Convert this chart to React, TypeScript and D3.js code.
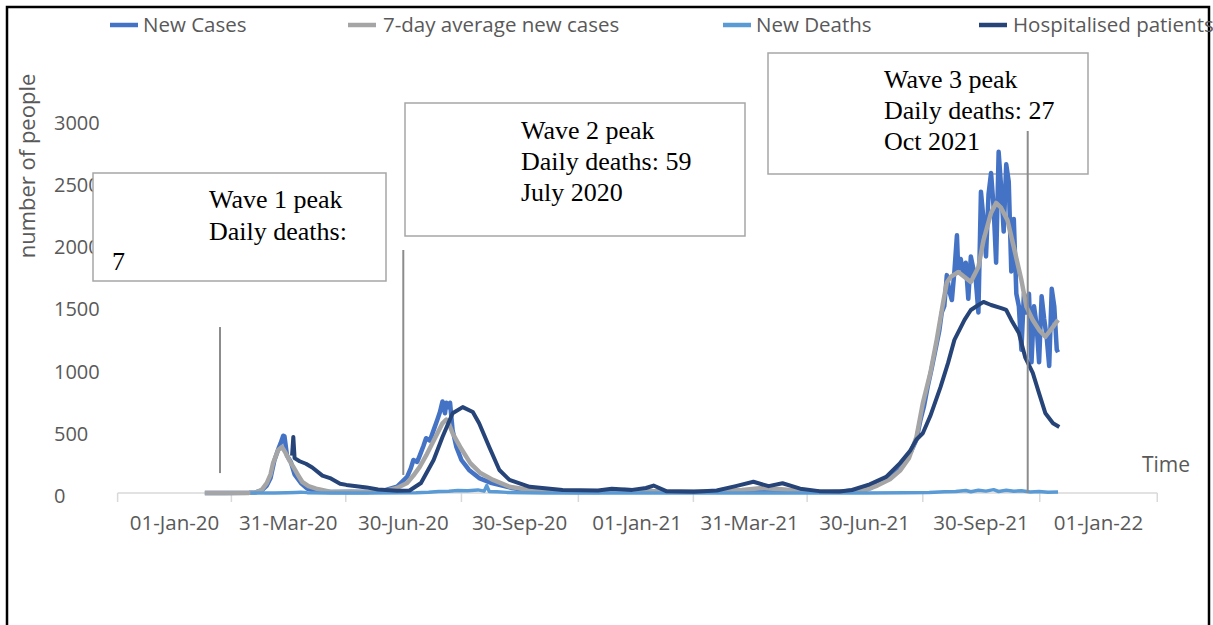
import React from "react";
import * as d3 from "d3";

type P = [string, number];

const xLabels: string[] = [
  "2020-01-01", "2020-03-31", "2020-06-30", "2020-09-30", "2021-01-01",
  "2021-03-31", "2021-06-30", "2021-09-30", "2022-01-01",
];
const xLabelText: string[] = [
  "01-Jan-20", "31-Mar-20", "30-Jun-20", "30-Sep-20", "01-Jan-21",
  "31-Mar-21", "30-Jun-21", "30-Sep-21", "01-Jan-22",
];
const yTicks: number[] = [0, 500, 1000, 1500, 2000, 2500, 3000];

const newCases: P[] = [
  ["2020-01-25", 0], ["2020-02-10", 1], ["2020-02-29", 2], ["2020-03-05", 5], ["2020-03-10", 20],
  ["2020-03-14", 60], ["2020-03-17", 120], ["2020-03-20", 260], ["2020-03-23", 350], ["2020-03-25", 400],
  ["2020-03-27", 460], ["2020-03-28", 455], ["2020-03-30", 300], ["2020-04-02", 250], ["2020-04-05", 150],
  ["2020-04-10", 80], ["2020-04-15", 35], ["2020-04-22", 15], ["2020-05-03", 8], ["2020-05-20", 10],
  ["2020-06-01", 8], ["2020-06-15", 20], ["2020-06-25", 50], ["2020-07-03", 130], ["2020-07-06", 200],
  ["2020-07-08", 265], ["2020-07-11", 250], ["2020-07-13", 300], ["2020-07-16", 380], ["2020-07-18", 440],
  ["2020-07-21", 420], ["2020-07-24", 505], ["2020-07-27", 590], ["2020-07-29", 650], ["2020-07-31", 735],
  ["2020-08-02", 640], ["2020-08-03", 725], ["2020-08-05", 690], ["2020-08-06", 725], ["2020-08-08", 505],
  ["2020-08-11", 370], ["2020-08-15", 265], ["2020-08-21", 185], ["2020-08-29", 120], ["2020-09-08", 80],
  ["2020-09-24", 40], ["2020-10-10", 15], ["2020-11-01", 10], ["2020-12-01", 8], ["2020-12-22", 25],
  ["2021-01-05", 20], ["2021-01-20", 10], ["2021-02-15", 10], ["2021-03-10", 12], ["2021-04-01", 20],
  ["2021-04-20", 18], ["2021-05-10", 12], ["2021-06-01", 10], ["2021-06-15", 15], ["2021-06-25", 25],
  ["2021-07-05", 40], ["2021-07-12", 90], ["2021-07-19", 120], ["2021-07-26", 200], ["2021-08-01", 260],
  ["2021-08-06", 340], ["2021-08-10", 430], ["2021-08-13", 580], ["2021-08-16", 700], ["2021-08-19", 860],
  ["2021-08-22", 1000], ["2021-08-25", 1150], ["2021-08-28", 1300], ["2021-08-30", 1450], ["2021-09-01", 1500],
  ["2021-09-03", 1750], ["2021-09-05", 1620], ["2021-09-07", 1550], ["2021-09-09", 1780], ["2021-09-11", 2070],
  ["2021-09-12", 1800], ["2021-09-14", 1880], ["2021-09-16", 1750], ["2021-09-18", 1850], ["2021-09-20", 1560],
  ["2021-09-22", 1900], ["2021-09-24", 1800], ["2021-09-26", 1700], ["2021-09-28", 1450], ["2021-09-30", 2420],
  ["2021-10-02", 2200], ["2021-10-04", 1900], ["2021-10-06", 2400], ["2021-10-08", 2570], ["2021-10-10", 2300],
  ["2021-10-12", 1850], ["2021-10-14", 2740], ["2021-10-16", 2450], ["2021-10-18", 2100], ["2021-10-20", 2640],
  ["2021-10-22", 2500], ["2021-10-24", 1780], ["2021-10-26", 2200], ["2021-10-28", 1600], ["2021-10-30", 1500],
  ["2021-11-01", 1150], ["2021-11-03", 1600], ["2021-11-05", 1450], ["2021-11-07", 1600], ["2021-11-09", 1050],
  ["2021-11-11", 1500], ["2021-11-13", 1350], ["2021-11-15", 1050], ["2021-11-17", 1580], ["2021-11-19", 1400],
  ["2021-11-21", 1250], ["2021-11-23", 1020], ["2021-11-25", 1640], ["2021-11-27", 1500], ["2021-11-29", 1150],
  ["2021-11-30", 1130],
];

const avg7: P[] = [
  ["2020-01-25", 0], ["2020-02-29", 1], ["2020-03-05", 4], ["2020-03-10", 25], ["2020-03-14", 80],
  ["2020-03-17", 150], ["2020-03-19", 240], ["2020-03-23", 345], ["2020-03-26", 370], ["2020-03-29", 320],
  ["2020-04-01", 260], ["2020-04-04", 210], ["2020-04-08", 140], ["2020-04-11", 90], ["2020-04-16", 55],
  ["2020-04-22", 35], ["2020-05-03", 10], ["2020-05-20", 8], ["2020-06-05", 8], ["2020-06-15", 15],
  ["2020-06-25", 40], ["2020-07-03", 80], ["2020-07-08", 140], ["2020-07-13", 210], ["2020-07-18", 300],
  ["2020-07-23", 400], ["2020-07-27", 480], ["2020-07-31", 560], ["2020-08-03", 590], ["2020-08-05", 560],
  ["2020-08-08", 480], ["2020-08-14", 370], ["2020-08-22", 240], ["2020-08-30", 160], ["2020-09-09", 105],
  ["2020-09-22", 50], ["2020-10-08", 24], ["2020-10-25", 12], ["2020-11-15", 8], ["2020-12-22", 20],
  ["2021-01-05", 18], ["2021-01-25", 10], ["2021-03-01", 10], ["2021-03-25", 25], ["2021-04-10", 40],
  ["2021-04-25", 30], ["2021-05-15", 12], ["2021-06-10", 10], ["2021-06-20", 15], ["2021-07-01", 25],
  ["2021-07-10", 60], ["2021-07-20", 110], ["2021-07-28", 180], ["2021-08-04", 280], ["2021-08-10", 450],
  ["2021-08-15", 720], ["2021-08-21", 965], ["2021-08-26", 1230], ["2021-08-31", 1525], ["2021-09-03", 1690],
  ["2021-09-06", 1735], ["2021-09-12", 1775], ["2021-09-17", 1735], ["2021-09-22", 1695], ["2021-09-28", 1815],
  ["2021-10-02", 2030], ["2021-10-08", 2250], ["2021-10-12", 2330], ["2021-10-16", 2290], ["2021-10-21", 2190],
  ["2021-10-26", 1975], ["2021-11-01", 1710], ["2021-11-05", 1495], ["2021-11-10", 1390], ["2021-11-15", 1310],
  ["2021-11-20", 1255], ["2021-11-26", 1335], ["2021-11-30", 1390],
];

const newDeaths: P[] = [
  ["2020-03-01", 0], ["2020-03-20", 1], ["2020-03-30", 3], ["2020-04-06", 5], ["2020-04-10", 7],
  ["2020-04-15", 3], ["2020-05-01", 1], ["2020-06-01", 0], ["2020-07-10", 2], ["2020-07-20", 6],
  ["2020-07-28", 12], ["2020-08-05", 15], ["2020-08-12", 20], ["2020-08-20", 18], ["2020-08-28", 25],
  ["2020-09-02", 15], ["2020-09-04", 59], ["2020-09-06", 12], ["2020-09-12", 10], ["2020-09-20", 5],
  ["2020-10-05", 2], ["2020-10-20", 0], ["2021-07-01", 0], ["2021-08-01", 2], ["2021-08-20", 5],
  ["2021-09-01", 10], ["2021-09-10", 12], ["2021-09-18", 20], ["2021-09-22", 10], ["2021-09-28", 22],
  ["2021-10-04", 15], ["2021-10-10", 27], ["2021-10-14", 12], ["2021-10-20", 22], ["2021-10-26", 14],
  ["2021-11-01", 18], ["2021-11-08", 8], ["2021-11-15", 12], ["2021-11-22", 6], ["2021-11-30", 8],
];

const hospitalised: P[] = [
  ["2020-04-03", 300], ["2020-04-04", 450], ["2020-04-05", 280], ["2020-04-09", 255], ["2020-04-14", 235],
  ["2020-04-19", 205], ["2020-04-27", 140], ["2020-05-03", 120], ["2020-05-11", 75], ["2020-05-16", 65],
  ["2020-06-01", 45], ["2020-06-10", 28], ["2020-06-25", 18], ["2020-07-05", 20], ["2020-07-14", 80],
  ["2020-07-24", 265], ["2020-07-31", 450], ["2020-08-08", 640], ["2020-08-16", 690], ["2020-08-24", 650],
  ["2020-08-29", 560], ["2020-09-06", 370], ["2020-09-14", 185], ["2020-09-22", 105], ["2020-10-08", 50],
  ["2020-11-03", 24], ["2020-12-01", 20], ["2020-12-12", 35], ["2020-12-28", 25], ["2021-01-08", 40],
  ["2021-01-14", 60], ["2021-01-24", 15], ["2021-02-15", 10], ["2021-03-05", 20], ["2021-03-20", 55],
  ["2021-04-03", 90], ["2021-04-15", 55], ["2021-04-26", 78], ["2021-05-10", 35], ["2021-05-25", 15],
  ["2021-06-10", 12], ["2021-06-20", 24], ["2021-07-04", 70], ["2021-07-17", 130], ["2021-07-28", 240],
  ["2021-08-05", 340], ["2021-08-10", 430], ["2021-08-15", 480], ["2021-08-21", 620], ["2021-08-29", 850],
  ["2021-09-04", 1045], ["2021-09-09", 1230], ["2021-09-17", 1390], ["2021-09-22", 1470], ["2021-09-28", 1510],
  ["2021-10-02", 1535], ["2021-10-08", 1510], ["2021-10-16", 1485], ["2021-10-20", 1470], ["2021-10-24", 1390],
  ["2021-10-30", 1285], ["2021-11-04", 1090], ["2021-11-10", 965], ["2021-11-15", 800], ["2021-11-20", 640],
  ["2021-11-26", 560], ["2021-12-01", 530],
];

const legendNames: string[] = ["New Cases", "7-day average new cases", "New Deaths", "Hospitalised patients"];
const seriesColors: string[] = ["#4472c4", "#a5a5a5", "#5b9bd5", "#264478"];

// annotation marker lines: date, from value, to value
const markerDates: string[] = ["2020-02-06", "2020-06-30", "2021-11-06"];
const markerFrom: number[] = [160, 145, 0];
const markerTo: number[] = [1333, 1952, 2908];

const box1Text: string[] = ["Wave 1 peak", "Daily deaths:"];
const box1Extra = "7";
const box2Text: string[] = ["Wave 2 peak", "Daily deaths: 59", "July 2020"];
const box3Text: string[] = ["Wave 3 peak", "Daily deaths: 27", "Oct 2021"];

const parse = d3.timeParse("%Y-%m-%d");

export default function App() {
  const x = d3.scaleTime()
    .domain([parse("2020-01-01") as Date, parse("2022-01-01") as Date])
    .range([174.5, 1098.5]);
  const y = d3.scaleLinear().domain([0, 3000]).range([493, 119.5]);
  const line = d3.line<P>()
    .x((d) => x(parse(d[0]) as Date))
    .y((d) => y(d[1]));

  const labelX = xLabels.map((s) => x(parse(s) as Date));
  const tickX: number[] = [];
  tickX.push(labelX[0] - (labelX[1] - labelX[0]) / 2);
  for (let i = 0; i < labelX.length - 1; i++) tickX.push((labelX[i] + labelX[i + 1]) / 2);
  const n = labelX.length;
  tickX.push(labelX[n - 1] + (labelX[n - 1] - labelX[n - 2]) / 2);

  const sans = "'Open Sans', 'Noto Sans', sans-serif";
  const serif = "'Liberation Serif', 'Times New Roman', serif";
  const grey = "#595959";

  const legendSwatchX = [110, 348, 723, 979];
  const legendTextX = [143, 383, 756, 1013];

  const series: P[][] = [newCases, avg7, newDeaths, hospitalised];
  const widths = [4.5, 4.5, 3.5, 4];

  return (
    <svg width={1213} height={625} style={{ position: "absolute", left: 0, top: 0, background: "#fff" }}>
      <rect x={0} y={0} width={1213} height={625} fill="#fff" />
      {/* frame */}
      <rect x={7} y={7} width={1202} height={640} fill="none" stroke="#000" strokeWidth={2.5} />

      {/* x axis */}
      <line x1={tickX[0]} x2={tickX[tickX.length - 1]} y1={y(0)} y2={y(0)} stroke="#d9d9d9" strokeWidth={1.5} />
      {tickX.map((t, i) => (
        <line key={"t" + i} x1={t} x2={t} y1={y(0)} y2={y(0) + 9} stroke="#d9d9d9" strokeWidth={1.5} />
      ))}
      {labelX.map((lx, i) => (
        <text key={"xl" + i} x={lx} y={530} textAnchor="middle" fontFamily={sans} fontSize={20.5} fill={grey}>
          {xLabelText[i]}
        </text>
      ))}

      {/* y tick labels */}
      {yTicks.map((v) => (
        <text key={"yl" + v} x={54} y={y(v) + 10} fontFamily={sans} fontSize={20} fill={grey}>
          {v}
        </text>
      ))}

      {/* y title */}
      <text transform="translate(35,166) rotate(-90)" textAnchor="middle" fontFamily={sans} fontSize={22} fill={grey}>
        number of people
      </text>
      <text x={1142} y={472} fontFamily={sans} fontSize={21} fill={grey}>Time</text>

      {/* legend */}
      {legendNames.map((name, i) => (
        <g key={"lg" + i}>
          <line x1={legendSwatchX[i]} x2={legendSwatchX[i] + 28} y1={25} y2={25} stroke={seriesColors[i]} strokeWidth={4.5} />
          <text x={legendTextX[i]} y={32} fontFamily={sans} fontSize={20.5} fill={grey}>{name}</text>
        </g>
      ))}

      {/* annotation boxes */}
      <g fontFamily={serif} fontSize={26} fill="#000">
        <rect x={93} y={173} width={293} height={108} fill="#fff" stroke="#a6a6a6" strokeWidth={1.5} />
        {box1Text.map((t, i) => (
          <text key={"b1" + i} x={209} y={208 + i * 32}>{t}</text>
        ))}
        <text x={112} y={270}>{box1Extra}</text>

        <rect x={405} y={103} width={340} height={133} fill="#fff" stroke="#a6a6a6" strokeWidth={1.5} />
        {box2Text.map((t, i) => (
          <text key={"b2" + i} x={521} y={139 + i * 31}>{t}</text>
        ))}

        <rect x={768} y={53} width={320} height={121} fill="#fff" stroke="#a6a6a6" strokeWidth={1.5} />
        {box3Text.map((t, i) => (
          <text key={"b3" + i} x={884} y={88 + i * 31}>{t}</text>
        ))}
      </g>

      {/* data */}
      {series.map((s, i) => (
        <path key={"s" + i} d={line(s) || ""} fill="none" stroke={seriesColors[i]} strokeWidth={widths[i]}
          strokeLinejoin="round" strokeLinecap="butt" />
      ))}

      {/* marker lines */}
      {markerDates.map((d, i) => {
        const mx = x(parse(d) as Date);
        return (
          <line key={"m" + i} x1={mx} x2={mx} y1={y(markerFrom[i])} y2={y(markerTo[i])} stroke="#8c8c8c" strokeWidth={2} />
        );
      })}
    </svg>
  );
}
